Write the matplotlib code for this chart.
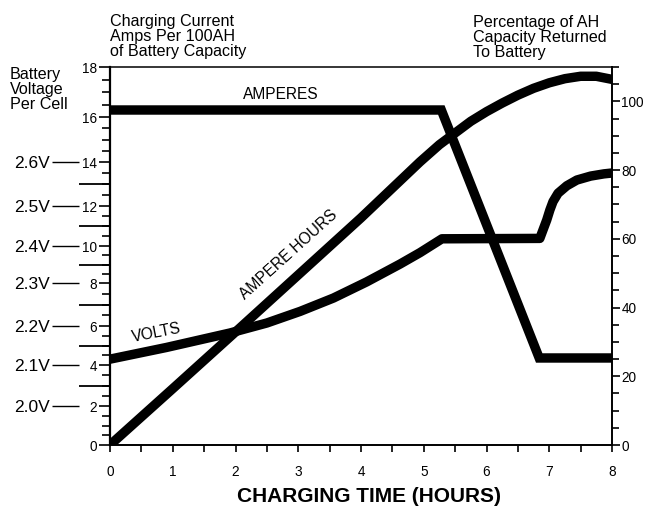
import numpy as np
import matplotlib
matplotlib.use('Agg')
import matplotlib.pyplot as plt
from matplotlib.ticker import FixedLocator, FixedFormatter, MultipleLocator

plt.rcParams['font.family'] = ['Liberation Sans', 'DejaVu Sans']

# ---------------- data ----------------
hours_amps = [0.0, 5.28, 6.84, 8.0]
amps = [16.28, 16.28, 4.36, 4.36]

hours_volts = [0.0, 0.9, 1.91, 2.5, 3.03, 3.56, 4.09, 4.62, 4.94, 5.29,
               6.85, 6.90, 6.96, 7.01, 7.06, 7.14, 7.28, 7.44, 7.66, 7.87, 8.0]
volts = [2.115, 2.145, 2.182, 2.207, 2.234, 2.265, 2.303, 2.351, 2.382, 2.418,
         2.419, 2.440, 2.465, 2.490, 2.510, 2.529, 2.546, 2.559, 2.568, 2.573, 2.575]

hours_ah = [0.0, 1.0, 2.0, 3.0, 4.0, 4.94, 5.25, 5.5, 5.75, 6.0, 6.25, 6.5,
            6.75, 7.0, 7.25, 7.5, 7.75, 8.0]
ah_pct = [0.0, 16.4, 32.9, 49.5, 66.1, 82.4, 87.4, 90.8, 94.2, 97.0, 99.5, 101.8,
          103.8, 105.4, 106.6, 107.3, 107.3, 106.4]

hour_ticks = [0, 1, 2, 3, 4, 5, 6, 7, 8]
amp_ticks = [0, 2, 4, 6, 8, 10, 12, 14, 16, 18]
volt_ticks = [2.0, 2.1, 2.2, 2.3, 2.4, 2.5, 2.6]
volt_labels = ['2.0V', '2.1V', '2.2V', '2.3V', '2.4V', '2.5V', '2.6V']
volt_mid_ticks = [2.05, 2.15, 2.25, 2.35, 2.45, 2.55]
pct_ticks = [0, 20, 40, 60, 80, 100]

# ---------------- hand-drawn left scale calibration ----------------
cal_amps = [-2, 0, 2, 4, 6, 8, 10, 12, 14, 16, 18, 20]
cal_px = [-39, 0, 39, 80, 119, 162, 199, 239, 283, 328, 378, 428]


def fwd(a):
    return np.interp(a, cal_amps, cal_px)


def inv(p):
    return np.interp(p, cal_px, cal_amps)


def v2a(v):
    return 2 + (np.asarray(v, dtype=float) - 2.0) / 0.05


def a2v(a):
    return 2.0 + (np.asarray(a, dtype=float) - 2) * 0.05


PX = 72 / 100  # points per pixel at dpi 100
W, H = 651, 511
fig = plt.figure(figsize=(W / 100, H / 100), dpi=100)
ax = fig.add_axes([110 / W, 66 / H, 502 / W, 378 / H])

ax.set_xlim(0, 8)
ax.set_yscale('function', functions=(fwd, inv))
ax.set_ylim(0, 18)

ax2 = ax.twinx()
ax2.set_ylim(0, 110)

ax_v = ax.twinx()
ax_v.set_yscale('function', functions=(lambda v: fwd(v2a(v)), lambda p: a2v(inv(p))))
ax_v.set_ylim(float(a2v(0)), float(a2v(18)))

lw_curve = 6.8
ax.plot(hours_amps, amps, color='black', lw=lw_curve, solid_joinstyle='miter',
        solid_capstyle='butt')
ax_v.plot(hours_volts, volts, color='black', lw=lw_curve, solid_joinstyle='round',
          solid_capstyle='butt')
ax2.plot(hours_ah, ah_pct, color='black', lw=lw_curve, solid_joinstyle='round',
         solid_capstyle='butt')

# ---------------- spines ----------------
for s in ax_v.spines.values():
    s.set_visible(False)
for name in ['left', 'bottom', 'top']:
    ax2.spines[name].set_visible(False)
ax.spines['right'].set_visible(False)
ax.spines['left'].set_linewidth(1.6)
ax.spines['bottom'].set_linewidth(1.4)
ax.spines['top'].set_linewidth(1.1)
ax2.spines['right'].set_linewidth(1.4)

# ---------------- left (amps) axis ----------------
ax.yaxis.set_major_locator(FixedLocator(amp_ticks))
ax.yaxis.set_minor_locator(MultipleLocator(0.5))
ax.tick_params(axis='y', which='major', left=True, right=False, direction='out',
               length=11 * PX, width=1.2, pad=1.5, labelsize=9.8)
ax.tick_params(axis='y', which='minor', left=True, right=False, direction='out',
               length=8 * PX, width=1.2)

# ---------------- x axis ----------------
ax.xaxis.set_major_locator(FixedLocator(hour_ticks))
ax.xaxis.set_minor_locator(MultipleLocator(0.5))
ax.tick_params(axis='x', which='both', direction='out', length=7 * PX, width=1.2,
               top=False)
ax.tick_params(axis='x', which='major', pad=9.5, labelsize=9.8)

# ---------------- right (percentage) axis ----------------
ax2.yaxis.set_major_locator(FixedLocator(pct_ticks))
ax2.yaxis.set_minor_locator(MultipleLocator(5))
ax2.tick_params(axis='y', which='major', direction='out', length=8 * PX, width=1.2,
                pad=1.0, labelsize=9.8)
ax2.tick_params(axis='y', which='minor', direction='out', length=7 * PX, width=1.2)

# ---------------- voltage scale (left, outside) ----------------
ax_v.yaxis.tick_left()
ax_v.spines['left'].set_position(('outward', 31 * PX))
ax_v.yaxis.set_major_locator(FixedLocator(volt_ticks))
ax_v.yaxis.set_major_formatter(FixedFormatter(volt_labels))
ax_v.yaxis.set_minor_locator(FixedLocator(volt_mid_ticks))
ax_v.tick_params(axis='y', which='major', left=True, right=False, labelleft=True,
                 labelright=False, direction='out', length=27 * PX, width=1.0,
                 pad=1.5, labelsize=12.5)
ax_v.tick_params(axis='y', which='minor', left=True, right=False, direction='in',
                 length=32 * PX, width=1.3)
ax_v.tick_params(axis='x', which='both', bottom=False, top=False,
                 labelbottom=False)
ax2.tick_params(axis='x', which='both', bottom=False, top=False, labelbottom=False)

# ---------------- annotations ----------------
fs = 11.6
fig.text(110 / W, 1 - 14 / H, 'Charging Current\nAmps Per 100AH\nof Battery Capacity',
         ha='left', va='top', fontsize=fs, linespacing=0.98)
fig.text(10 / W, 1 - 67 / H, 'Battery\nVoltage\nPer Cell',
         ha='left', va='top', fontsize=fs, linespacing=1.02)
fig.text(473 / W, 1 - 15 / H, 'Percentage of AH\nCapacity Returned\nTo Battery',
         ha='left', va='top', fontsize=fs, linespacing=0.98)

ax2.text(2.72, 101.9, 'AMPERES', ha='center', va='center', fontsize=11.2)
ax2.text(0.74, 32.6, 'VOLTS', ha='center', va='center', fontsize=11.2,
         rotation=11, rotation_mode='anchor')
ax2.text(2.84, 55.3, 'AMPERE HOURS', ha='center', va='center', fontsize=11.2,
         rotation=42, rotation_mode='anchor')

fig.text(369 / W, 1 - 496 / H, 'CHARGING TIME (HOURS)', ha='center', va='center',
         fontsize=15, fontweight='bold')

fig.savefig('out.png', dpi=100)
